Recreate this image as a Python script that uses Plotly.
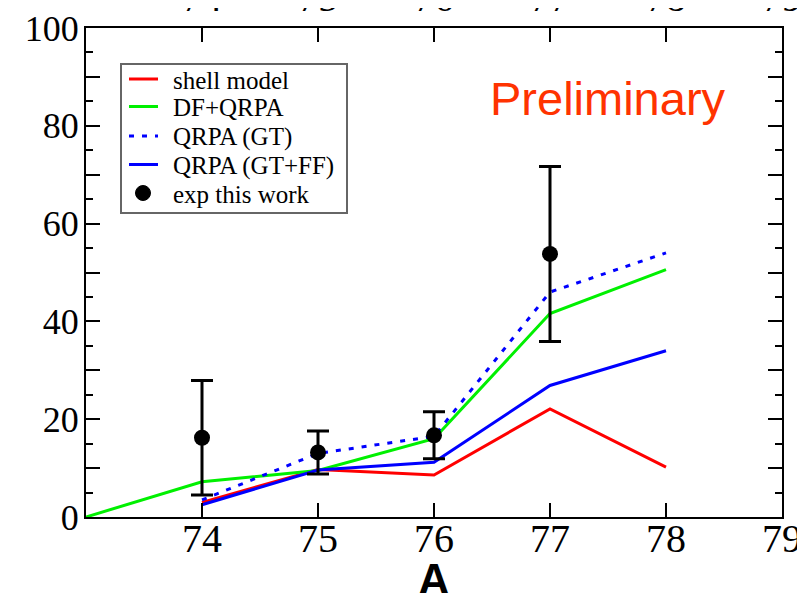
import plotly.graph_objects as go

A_shell = [74, 75, 76, 77, 78]
shell_model = [3.0, 9.7, 8.6, 22.1, 10.2]

A_df = [73, 74, 75, 76, 77, 78]
df_qrpa = [0.0, 7.2, 9.5, 16.0, 41.6, 50.6]

A_qrpa = [74, 75, 76, 77, 78]
qrpa_gt = [3.5, 13.0, 16.5, 46.0, 54.0]
qrpa_gtff = [2.5, 9.6, 11.2, 26.9, 34.0]

A_exp = [74, 75, 76, 77]
exp_val = [16.2, 13.2, 16.7, 53.8]
exp_err = [11.7, 4.4, 4.8, 17.9]

x_ticks = [74, 75, 76, 77, 78, 79]
y_ticks = [0, 10, 20, 30, 40, 50, 60, 70, 80, 90, 100]
y_ticktext = ["0", "", "20", "", "40", "", "60", "", "80", "", "100"]

series_names = ["shell model", "DF+QRPA", "QRPA (GT)", "QRPA (GT+FF)", "exp this work"]
RED, GREEN, BLUE = "#ff0000", "#00f000", "#0000ff"

fig = go.Figure()
fig.add_trace(go.Scatter(x=A_shell, y=shell_model, mode="lines", name=series_names[0],
                         line=dict(color=RED, width=3)))
fig.add_trace(go.Scatter(x=A_df, y=df_qrpa, mode="lines", name=series_names[1],
                         line=dict(color=GREEN, width=3)))
fig.add_trace(go.Scatter(x=A_qrpa, y=qrpa_gt, mode="lines", name=series_names[2],
                         line=dict(color=BLUE, width=3, dash="5px,8px")))
fig.add_trace(go.Scatter(x=A_qrpa, y=qrpa_gtff, mode="lines", name=series_names[3],
                         line=dict(color=BLUE, width=3)))
fig.add_trace(go.Scatter(x=A_exp, y=exp_val, mode="markers", name=series_names[4],
                         marker=dict(color="black", size=16),
                         error_y=dict(type="data", array=exp_err, visible=True,
                                      color="black", thickness=3, width=11)))

serif = "Liberation Serif"

# plot area in window pixels (page has an 8px body margin)
PL, PR, PT, PB = 86, 782, 28, 517


def px(x):
    return (x - PL) / (PR - PL)


def py(y):
    return (PB - y) / (PB - PT)


fig.update_layout(
    width=805, height=593,
    margin=dict(l=78, r=31, t=20, b=84),
    paper_bgcolor="white", plot_bgcolor="white",
    showlegend=False,
    xaxis=dict(range=[73, 79], tickvals=x_ticks, ticks="inside", ticklen=14,
               tickwidth=2, tickcolor="black", showline=True, linecolor="black",
               linewidth=2, mirror="ticks", showgrid=False, zeroline=False,
               automargin=False, ticklabelstandoff=-15,
               tickfont=dict(family=serif, size=40, color="black")),
    yaxis=dict(range=[0, 100], tickvals=y_ticks, ticktext=y_ticktext,
               ticks="inside", ticklen=14, tickwidth=2, tickcolor="black",
               showline=True, linecolor="black", linewidth=2, mirror="ticks",
               showgrid=False, zeroline=False, automargin=False,
               ticklabelstandoff=-2,
               tickfont=dict(family=serif, size=36, color="black"),
               minor=dict(dtick=5, tick0=0, ticks="inside", ticklen=7,
                          tickwidth=2, tickcolor="black", showgrid=False)),
)

# legend box (drawn by hand to match the original spacing)
fig.add_shape(type="rect", xref="paper", yref="paper",
              x0=px(121), x1=px(347), y0=py(213), y1=py(64),
              line=dict(color="#666666", width=2), fillcolor="white", layer="above")
row_y = [79, 106.5, 136, 164.5, 193]
legend_styles = [(RED, "solid"), (GREEN, "solid"), (BLUE, "5px,8px"), (BLUE, "solid")]
for (col, dash), ry in zip(legend_styles, row_y[:4]):
    fig.add_shape(type="line", xref="paper", yref="paper",
                  x0=px(129), x1=px(158), y0=py(ry), y1=py(ry),
                  line=dict(color=col, width=3, dash=dash), layer="above")
fig.add_shape(type="circle", xref="paper", yref="paper",
              x0=px(135.5), x1=px(150.5), y0=py(row_y[4] + 7.5), y1=py(row_y[4] - 7.5),
              line=dict(color="black", width=1), fillcolor="black", layer="above")
for name, ry in zip(series_names, row_y):
    fig.add_annotation(text=name, x=px(171), y=py(ry + 1), xref="paper", yref="paper",
                       xanchor="left", yanchor="middle", showarrow=False,
                       font=dict(family=serif, size=25, color="black"))

fig.add_annotation(text="Preliminary", x=77.5, y=85.5, xref="x", yref="y",
                   showarrow=False,
                   font=dict(family="Liberation Sans", size=47, color="#ff3300"))
fig.add_annotation(text="<b>A</b>", x=0.5, y=-(579 - PB) / (PB - PT), xref="paper", yref="paper",
                   yanchor="middle", showarrow=False,
                   font=dict(family="Liberation Sans", size=44, color="black"))

# cut-off tick labels of a panel above
for t in x_ticks:
    fig.add_annotation(text=str(t), x=t, y=1.0 + 6 / 489, xref="x", yref="paper",
                       yanchor="bottom", showarrow=False,
                       font=dict(family=serif, size=40, color="black"))

fig.write_html("out.html")
